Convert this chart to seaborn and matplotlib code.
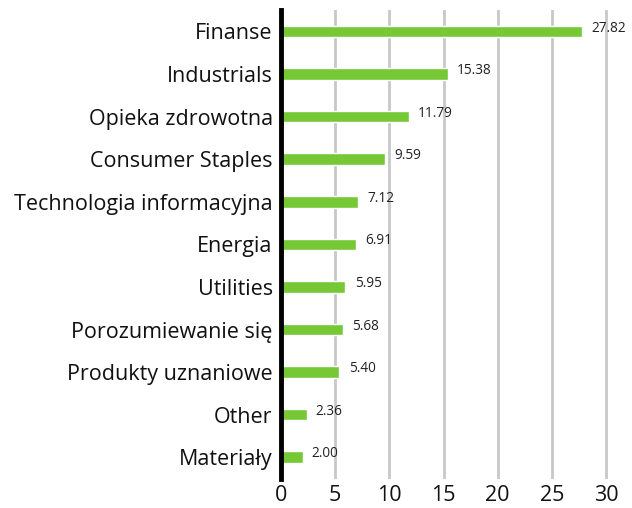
import matplotlib
matplotlib.use("Agg")
import matplotlib.pyplot as plt
import seaborn as sns
import pandas as pd

sectors = ["Finanse", "Industrials", "Opieka zdrowotna", "Consumer Staples",
           "Technologia informacyjna", "Energia", "Utilities",
           "Porozumiewanie się", "Produkty uznaniowe", "Other", "Materiały"]
weights = [27.82, 15.38, 11.79, 9.59, 7.12, 6.91, 5.95, 5.68, 5.40, 2.36, 2.00]
xticks = [0, 5, 10, 15, 20, 25, 30]

sns.set_theme(style="white")
plt.rcParams['font.family'] = ['Open Sans', 'DejaVu Sans']

df = pd.DataFrame({"sector": sectors, "weight": weights})

fig = plt.figure(figsize=(6.32, 5.08), dpi=100)
ax = fig.add_axes([0.4446, 0.058, 0.54, 0.922])

sns.barplot(data=df, x="weight", y="sector", color="#76c935", width=0.27,
            saturation=1, ax=ax, zorder=3)

for i, v in enumerate(weights):
    ax.text(v + 0.85, i - 0.08, f"{v:.2f}", va="center", ha="left",
            fontsize=9.8, color="#222222", zorder=4)

ax.set_xlim(0, 31.5)
ax.set_ylim(10.5, -0.5)
ax.set_xticks(xticks)
ax.xaxis.grid(True, color="#c8c8c8", linewidth=2)
ax.set_axisbelow(True)
for s in ["top", "right", "bottom"]:
    ax.spines[s].set_visible(False)
ax.spines["left"].set_color("black")
ax.spines["left"].set_linewidth(3.5)
ax.spines["left"].set_zorder(5)
ax.set_xlabel("")
ax.set_ylabel("")
ax.tick_params(axis="y", labelsize=15.5, length=0, pad=6, colors="#111111")
ax.tick_params(axis="x", labelsize=15.5, length=0, pad=5, colors="#111111")

plt.savefig("out.png", dpi=100)
